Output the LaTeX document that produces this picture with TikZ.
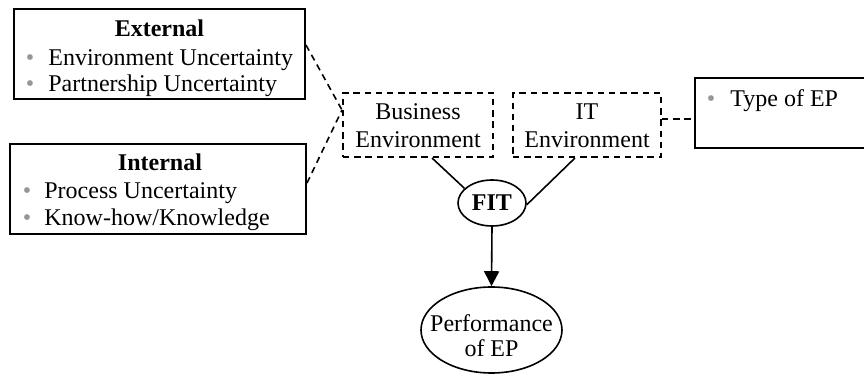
\documentclass[tikz,border=0pt]{standalone}
\usepackage{fontspec}
\setmainfont{Liberation Serif}
\usetikzlibrary{arrows.meta,shapes.geometric,calc}
\definecolor{bulgray}{RGB}{150,150,150}
\begin{document}
\begin{tikzpicture}[x=0.5pt,y=-0.5pt,
  font=\fontsize{12}{14}\selectfont,
  solidbox/.style={draw, line width=1pt, inner sep=0pt},
  dashbox/.style={draw, line width=1pt, inner sep=0pt, dash pattern=on 3.2pt off 2.4pt},
  oval/.style={draw, ellipse, line width=0.8pt, inner sep=0pt},
  txt/.style={inner sep=0pt, anchor=base west},
  ctxt/.style={inner sep=0pt, anchor=base},
  ttl/.style={inner sep=0pt, anchor=base, font=\fontsize{12}{14}\selectfont\bfseries},
  bul/.style={inner sep=0pt, anchor=base, text=bulgray},
  link/.style={line width=0.8pt},
  dlink/.style={line width=0.8pt, dash pattern=on 3.2pt off 2.4pt}]
\clip (0,0) rectangle (864,374);
% External box
\node[solidbox, minimum width=145.5pt, minimum height=45pt] (ext) at (159.5,54) {};
\node[ttl] (extt) at (159.5,37) {External};
\node[bul] (extb1) at (30,66) {\textbullet};
\node[txt] (ext1) at (48,66) {Environment Uncertainty};
\node[bul] (extb2) at (30,92) {\textbullet};
\node[txt] (ext2) at (48,92) {Partnership Uncertainty};
% Internal box
\node[solidbox, minimum width=148pt, minimum height=45pt] (int) at (158,189) {};
\node[ttl] (intt) at (160,171) {Internal};
\node[bul] (intb1) at (27,199) {\textbullet};
\node[txt] (int1) at (44,199) {Process Uncertainty};
\node[bul] (intb2) at (27,226) {\textbullet};
\node[txt] (int2) at (44,226) {Know-how/Knowledge};
% Business / IT environment
\node[dashbox, minimum width=75pt, minimum height=32pt] (bus) at (418,125) {};
\node[ctxt] (bus1) at (418,120) {Business};
\node[ctxt] (bus2) at (418,148) {Environment};
\node[dashbox, minimum width=74pt, minimum height=32pt] (it) at (587,125) {};
\node[ctxt] (it1) at (587,120) {IT};
\node[ctxt] (it2) at (587,148) {Environment};
% Type of EP
\node[solidbox, minimum width=87.5pt, minimum height=35pt] (ty) at (782.5,113) {};
\node[bul] (tyb) at (711,107) {\textbullet};
\node[txt] (ty1) at (730,107) {Type of EP};
% FIT and performance
\node[oval, minimum width=34pt, minimum height=23pt] (fitn) at (492,203) {};
\node[ctxt, font=\fontsize{12}{14}\selectfont\bfseries] (fitt) at (492,211) {FIT};
\node[oval, minimum width=70.5pt, minimum height=43pt] (perf) at (491.5,330) {};
\node[ctxt] (perf1) at (491.5,332) {Performance};
\node[ctxt] (perf2) at (491.5,357) {of EP};
% connectors
\draw[dlink] ([yshift=4.5pt]ext.east) -- ([yshift=7.5pt]bus.west);
\draw[dlink] ([yshift=3pt]int.east) -- ([yshift=7.5pt]bus.west);
\draw[dlink] ([yshift=-3pt]ty.west -| it.east) -- ([yshift=-3pt]ty.west);
\draw[link] ([xshift=7pt]bus.south) -- (fitn.152);
\draw[link] ([xshift=-6pt]it.south) -- (fitn.357);
\draw[link, -{Triangle[length=7.5pt,width=7.5pt]}] (fitn.south) -- (perf.north);
\end{tikzpicture}
\end{document}
